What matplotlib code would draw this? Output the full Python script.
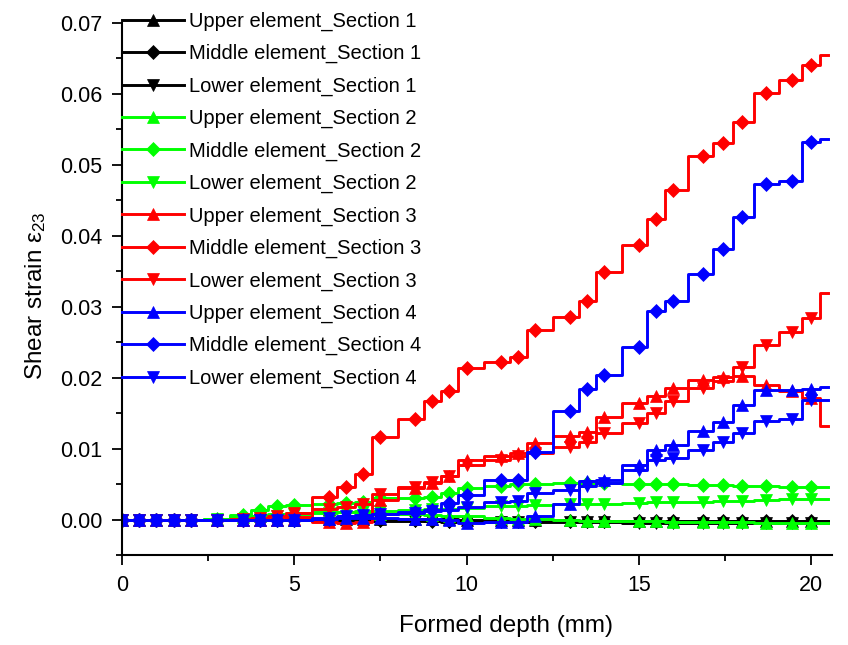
import matplotlib
matplotlib.use("Agg")
import matplotlib.pyplot as plt
from matplotlib.ticker import MultipleLocator, FormatStrFormatter

plt.rcParams['font.family'] = ['Liberation Sans', 'DejaVu Sans']
plt.rcParams['mathtext.fontset'] = 'custom'
plt.rcParams['mathtext.rm'] = 'Liberation Sans'
plt.rcParams['mathtext.it'] = 'Liberation Sans'

# Formed depth (mm) at the sampled points; last point is line end without marker
depth = [0, 0.5, 1.0, 1.5, 2.0, 2.75, 3.5, 4.0, 4.5, 5.0, 6.0, 6.5, 7.0, 7.5,
         8.5, 9.0, 9.5, 10.0, 11.0, 11.5, 12.0, 13.0, 13.5, 14.0, 15.0, 15.5,
         16.0, 16.85, 17.45, 18.0, 18.7, 19.45, 20.0, 20.5]

upper_s1 = [0, 0, 0, 0, 0, 0, 0, 0, 0, 0, 0.0001, 0.0001, 0.0001, 0.0001,
            0.0001, 0.0001, 0.0001, 0.0, 0.0, 0.0, 0.0, 0.0, -0.0001, -0.0001,
            -0.0001, -0.0001, -0.0001, -0.0001, -0.0001, -0.0001, -0.0001,
            -0.0001, -0.0001, -0.0001]
middle_s1 = [0, 0, 0, 0, 0, 0, 0, 0, 0, 0, 0.0, 0.0, 0.0, 0.0,
             0.0, -0.0001, -0.0001, -0.0001, -0.0001, -0.0001, -0.0001, -0.0001,
             -0.0001, -0.0001, -0.0002, -0.0002, -0.0002, -0.0002, -0.0002,
             -0.0002, -0.0002, -0.0002, -0.0002, -0.0002]
lower_s1 = [0, 0, 0, 0, 0, 0, 0, 0, 0, 0, -0.0001, -0.0001, -0.0001, -0.0002,
            -0.0002, -0.0002, -0.0003, -0.0003, -0.0003, -0.0003, -0.0003,
            -0.0003, -0.0003, -0.0003, -0.0004, -0.0004, -0.0004, -0.0004,
            -0.0004, -0.0004, -0.0004, -0.0004, -0.0004, -0.0004]

upper_s2 = [0, 0, 0, 0, 0, 0.0001, 0.0004, 0.0006, 0.0008, 0.0010, 0.0011,
            0.0011, 0.0010, 0.0009, 0.0008, 0.0007, 0.0006, 0.0005, 0.0003,
            0.0002, 0.0001, 0.0, -0.0001, -0.0001, -0.0002, -0.0002, -0.0003,
            -0.0003, -0.0003, -0.0003, -0.0004, -0.0004, -0.0004, -0.0004]
middle_s2 = [0, 0, 0, 0, 0, 0.0002, 0.0007, 0.0014, 0.0020, 0.0021, 0.0023,
             0.0024, 0.0026, 0.0031, 0.0031, 0.0033, 0.0038, 0.0045, 0.0048,
             0.0050, 0.0050, 0.0052, 0.0052, 0.0052, 0.0051, 0.0050, 0.0050,
             0.0049, 0.0049, 0.0048, 0.0048, 0.0047, 0.0047, 0.0047]
lower_s2 = [0, 0, 0, 0, 0, 0.0001, 0.0002, 0.0003, 0.0006, 0.0008, 0.0010,
            0.0011, 0.0012, 0.0013, 0.0014, 0.0015, 0.0016, 0.0017, 0.0019,
            0.0020, 0.0021, 0.0022, 0.0023, 0.0023, 0.0024, 0.0025, 0.0025,
            0.0026, 0.0027, 0.0027, 0.0028, 0.0029, 0.0029, 0.0029]

upper_s3 = [0, 0, 0, 0, 0, 0, 0, 0, 0, 0.0001, -0.0003, -0.0004, -0.0003,
            0.0028, 0.0045, 0.0052, 0.0062, 0.0084, 0.0090, 0.0094, 0.0108,
            0.0118, 0.0124, 0.0145, 0.0165, 0.0175, 0.0186, 0.0197, 0.0202,
            0.0203, 0.0190, 0.0182, 0.0172, 0.0133]
middle_s3 = [0, 0, 0, 0, 0, 0, 0, 0, 0.0002, 0.0004, 0.0033, 0.0047, 0.0065,
             0.0117, 0.0142, 0.0168, 0.0182, 0.0214, 0.0222, 0.0230, 0.0268,
             0.0286, 0.0309, 0.0349, 0.0387, 0.0424, 0.0465, 0.0512, 0.0531,
             0.0561, 0.0602, 0.0619, 0.0641, 0.0655]
lower_s3 = [0, 0, 0, 0, 0, 0, 0.0001, 0.0003, 0.0006, 0.0010, 0.0015, 0.0018,
            0.0022, 0.0037, 0.0047, 0.0054, 0.0062, 0.0078, 0.0085, 0.0090,
            0.0095, 0.0103, 0.0110, 0.0122, 0.0136, 0.0150, 0.0167, 0.0186,
            0.0196, 0.0216, 0.0246, 0.0265, 0.0284, 0.0320]

upper_s4 = [0, 0, 0, 0, 0, 0, 0, 0, 0, 0, 0.0002, 0.0003, 0.0003, 0.0003,
            0.0002, 0.0001, 0.0, -0.0004, -0.0003, -0.0003, 0.0005, 0.0022,
            0.0055, 0.0057, 0.0078, 0.0098, 0.0106, 0.0126, 0.0138, 0.0162,
            0.0183, 0.0183, 0.0184, 0.0187]
middle_s4 = [0, 0, 0, 0, 0, 0, 0, 0, 0, 0, 0.0002, 0.0004, 0.0005, 0.0008,
             0.0011, 0.0014, 0.0024, 0.0035, 0.0056, 0.0057, 0.0096, 0.0153,
             0.0184, 0.0204, 0.0244, 0.0295, 0.0309, 0.0347, 0.0381, 0.0427,
             0.0473, 0.0477, 0.0533, 0.0536]
lower_s4 = [0, 0, 0, 0, 0, 0, 0, 0, 0, 0, 0.0003, 0.0005, 0.0007, 0.0008,
            0.0010, 0.0012, 0.0014, 0.0018, 0.0026, 0.0027, 0.0038, 0.0042,
            0.0048, 0.0052, 0.0070, 0.0084, 0.0087, 0.0099, 0.0110, 0.0123,
            0.0139, 0.0142, 0.0169, 0.0169]

series = [
    ("Upper element_Section 1", upper_s1, "#000000", "^"),
    ("Middle element_Section 1", middle_s1, "#000000", "D"),
    ("Lower element_Section 1", lower_s1, "#000000", "v"),
    ("Upper element_Section 2", upper_s2, "#00FF00", "^"),
    ("Middle element_Section 2", middle_s2, "#00FF00", "D"),
    ("Lower element_Section 2", lower_s2, "#00FF00", "v"),
    ("Upper element_Section 3", upper_s3, "#FF0000", "^"),
    ("Middle element_Section 3", middle_s3, "#FF0000", "D"),
    ("Lower element_Section 3", lower_s3, "#FF0000", "v"),
    ("Upper element_Section 4", upper_s4, "#0000FF", "^"),
    ("Middle element_Section 4", middle_s4, "#0000FF", "D"),
    ("Lower element_Section 4", lower_s4, "#0000FF", "v"),
]

fig = plt.figure(figsize=(8.48, 6.45), dpi=100)
ax = fig.add_axes([0.1439, 0.1388, 0.837, 0.8256])

mark_idx = list(range(len(depth) - 1))
for label, vals, col, mk in series:
    ms = 7.2 if mk == "D" else 8.8
    ax.plot(depth, vals, color=col, lw=2.1, drawstyle='steps-mid',
            marker=mk, ms=ms, markevery=mark_idx, label=label,
            markeredgewidth=0.5)

ax.set_xlim(0, 20.6)
ax.set_ylim(-0.005, 0.07)
ax.xaxis.set_major_locator(MultipleLocator(5))
ax.xaxis.set_minor_locator(MultipleLocator(2.5))
ax.yaxis.set_major_locator(MultipleLocator(0.01))
ax.yaxis.set_minor_locator(MultipleLocator(0.005))
ax.yaxis.set_major_formatter(FormatStrFormatter('%.2f'))

for s in ['top', 'right']:
    ax.spines[s].set_visible(False)
for s in ['left', 'bottom']:
    ax.spines[s].set_linewidth(1.5)

ax.tick_params(which='major', direction='out', length=7, width=1.3,
               labelsize=15.5, pad=7)
ax.tick_params(which='minor', direction='out', length=4, width=1.3)

ax.set_xlabel('Formed depth (mm)', fontsize=17.5)
ax.set_ylabel('Shear strain ε$_{23}$', fontsize=17.5)
ax.xaxis.set_label_coords(0.541, -0.112)
ax.yaxis.set_label_coords(-0.105, 0.487)

leg = ax.legend(loc='upper left', bbox_to_anchor=(0.0, 1.021), frameon=False,
                fontsize=14.5, handlelength=3.08, handletextpad=0.25,
                labelspacing=0.655, borderpad=0, borderaxespad=0,
                numpoints=1)

fig.savefig('out.png', dpi=100)
